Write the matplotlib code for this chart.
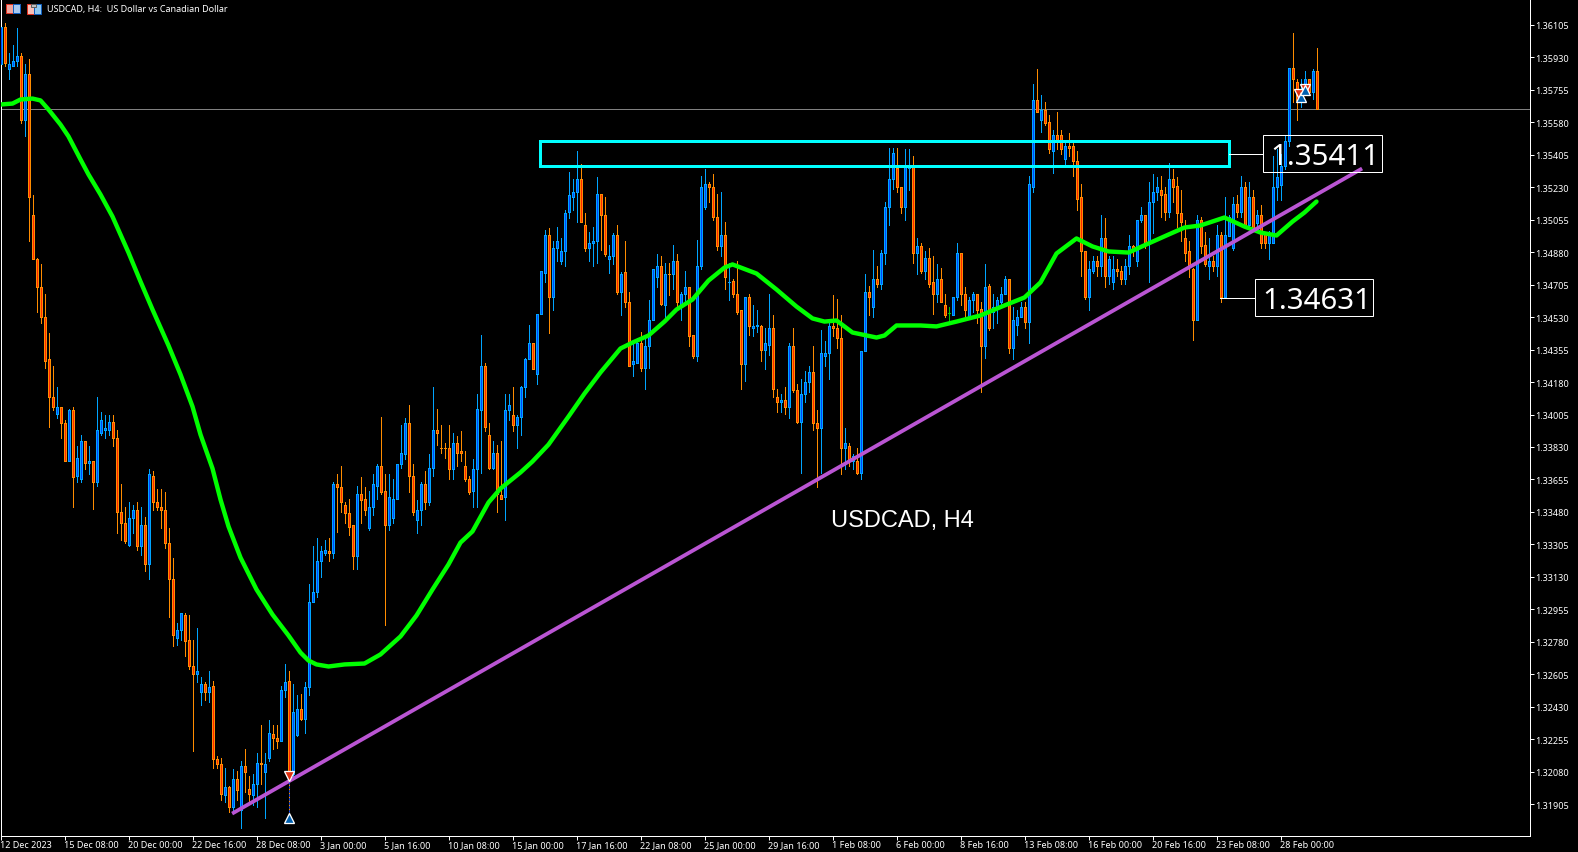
# USDCAD H4 chart, MT5 style dark candles with MA, trendline and range box

import numpy as np
import matplotlib
matplotlib.use('Agg')
import matplotlib.pyplot as plt
from matplotlib.patches import Rectangle
from matplotlib.lines import Line2D
from matplotlib.transforms import Affine2D

# ===== Candle data, prices in points (1e-5), first bar is 12 Dec 2023 =====
OPENS = [
    135892,136096,135870,135886,135913,135935,135590,135838,135083,134846,
    134695,134533,134302,134097,134010,134048,133962,133752,134027,133671,
    133660,133860,133746,133752,133644,133908,133924,133924,133967,133876,
    133482,133418,133304,133450,133493,133299,133412,133202,133676,133536,
    133509,133488,133315,133116,132798,132841,132922,132792,132652,132609,
    132507,132555,132512,132544,132151,132124,131952,131995,131892,132038,
    131871,132108,131989,131952,132011,132129,132076,132156,132281,132264,
    132248,132518,132571,132070,132280,132420,132366,132539,132997,133051,
    133218,133261,133272,133261,133628,133617,133520,133472,133407,133240,
    133574,133552,133391,133509,133622,133730,133595,133412,133450,133552,
    133741,133790,133962,133671,133434,133488,133633,133536,133719,133919,
    133827,133827,133822,133714,133849,133806,133725,133660,133595,133709,
    134027,134264,133897,133719,133795,133569,133558,134027,134005,133946,
    133994,134156,134302,134393,134226,134549,134770,134970,134636,134900,
    134830,134884,135094,135180,135207,135272,135024,134905,134932,134938,
    135191,135083,134841,134862,134970,134663,134771,134614,134280,134285,
    134393,134258,134372,134512,134744,134808,134598,134765,134765,134835,
    134587,134657,134695,134431,134323,134803,135121,135250,135234,135067,
    134911,134970,134717,134727,134657,134566,134275,134636,134474,134480,
    134480,134355,134382,134474,134102,134075,134086,134048,134377,134135,
    133967,134118,134183,134232,133962,133930,134323,134339,134480,134469,
    134415,133822,133833,133752,133757,133692,134350,134668,134587,134738,
    134711,134873,135121,135277,135336,135229,135126,135336,135342,134873,
    134916,134776,134851,134717,134657,134738,134598,134550,134544,134636,
    134873,134657,134533,134620,134652,134576,134377,134700,134555,134582,
    134614,134657,134733,134366,134490,134528,134582,134506,135234,135698,
    135595,135649,135584,135428,135514,135514,135380,135455,135450,135374,
    135175,134889,134636,134781,134830,134803,134959,134749,134722,134787,
    134781,134738,134803,134911,134835,135051,135083,134932,135148,135202,
    135213,135191,135094,135272,135239,135089,134954,134884,134792,134517,
    135056,134921,134803,134830,134803,134975,134636,134965,134900,135142,
    135099,135229,135024,135175,135040,135078,134986,134927,134932,135229,
    135240,135342,135482,135875,135795,135703,135730,135811,135741,135854,
]
HIGHS = [
    136096,136113,135956,135999,136086,135951,135897,135919,135186,134851,
    134819,134652,134442,134264,134156,134048,133978,134037,134043,133838,
    133892,133865,133833,133752,134097,134016,134000,134005,134005,133924,
    133633,133509,133536,133520,133531,133509,133455,133709,133703,133601,
    133601,133585,133391,133234,132884,132933,132933,132922,132792,132857,
    132588,132566,132625,132571,132162,132156,132102,132005,132092,132081,
    132135,132200,132059,132065,132183,132329,132178,132361,132334,132329,
    132544,132658,132620,132555,132491,132496,132566,133094,133294,133342,
    133299,133331,133342,133644,133682,133725,133531,133552,133412,133622,
    133666,133617,133595,133682,133736,133994,133687,133687,133660,133741,
    133951,133989,134054,133736,133542,133639,133698,133790,134151,134037,
    133946,133854,133951,133903,133887,133914,133811,133671,133768,134113,
    134436,134285,133962,133865,133843,133865,134113,134118,134151,134000,
    134161,134312,134485,134393,134549,134776,134997,135008,134943,135018,
    134959,135110,135310,135277,135423,135358,135089,134991,135018,135283,
    135196,135180,134921,134981,135024,134771,134943,134663,134399,134420,
    134452,134426,134620,134792,134868,134857,134824,134824,134921,134868,
    134663,134781,134695,134431,134948,135288,135331,135261,135304,135191,
    135202,135045,134824,134733,134835,134571,134636,134657,134593,134571,
    134490,134469,134657,134544,134145,134118,134156,134393,134469,134167,
    134194,134242,134264,134377,134032,134463,134404,134517,134647,134630,
    134539,133930,133854,133790,133822,134350,134760,134700,134894,134803,
    134894,135148,135444,135439,135444,135234,135434,135434,135401,134954,
    134932,134889,134900,134862,134814,134797,134657,134587,134636,134932,
    134878,134690,134636,134663,134657,134609,134819,134711,134657,134641,
    134695,134754,134733,134587,134571,134614,134614,135293,135789,135865,
    135725,135687,135617,135541,135633,135536,135487,135520,135471,135428,
    135245,134889,134835,134862,134862,135078,135062,134857,134857,134841,
    134803,134841,134970,134921,135056,135121,135083,135256,135304,135283,
    135288,135229,135363,135331,135283,135213,135056,134943,134797,135078,
    135067,134991,134954,134862,135024,134991,135180,135078,135175,135186,
    135288,135256,135256,135213,135110,135137,134986,134992,135396,135434,
    135407,135504,135875,136064,135811,135811,135854,135816,135865,135978,
]
LOWS = [
    135886,135881,135816,135886,135886,135579,135504,134943,134841,134560,
    134501,134258,133940,134027,133989,133881,133752,133752,133504,133639,
    133639,133709,133682,133498,133622,133892,133881,133892,133833,133369,
    133331,133315,133299,133369,133277,133250,133159,133121,133493,133488,
    133391,133288,132916,132760,132765,132792,132701,132631,132194,132561,
    132442,132464,132458,132102,132102,131930,131919,131865,131865,131930,
    131779,131968,131914,131903,131892,132011,131828,132135,132200,132210,
    132248,132485,132065,132059,132270,132361,132286,132491,132992,133019,
    133127,133250,133218,133234,133374,133477,133423,133358,133175,133170,
    133418,133461,133380,133466,133552,133574,132873,133380,133423,133552,
    133719,133763,133590,133461,133364,133407,133498,133515,133676,133843,
    133800,133773,133660,133655,133725,133757,133649,133574,133509,133509,
    133692,133914,133709,133709,133477,133552,133439,133973,133914,133822,
    133897,134097,134302,134248,134167,134549,134717,134447,134571,134830,
    134819,134803,135062,135105,135045,135045,134889,134835,134803,134824,
    134894,134862,134770,134819,134657,134544,134582,134269,134215,134285,
    134237,134145,134258,134512,134690,134598,134533,134647,134679,134587,
    134512,134609,134377,134312,134296,134792,135115,135148,135056,134894,
    134857,134679,134625,134636,134549,134140,134188,134431,134426,134452,
    134296,134253,134328,134097,134016,134016,134010,133989,134124,133962,
    133692,134075,134129,133919,133612,133692,134264,134199,134426,134361,
    133682,133709,133725,133709,133687,133660,134350,134539,134533,134695,
    134679,134819,135024,135223,135207,135089,135056,135213,134824,134760,
    134770,134738,134695,134549,134609,134609,134528,134501,134544,134625,
    134598,134517,134533,134560,134496,134129,134312,134463,134469,134501,
    134582,134652,134339,134302,134431,134528,134474,134388,135202,135633,
    135530,135563,135412,135309,135434,135407,135342,135396,135288,135110,
    134754,134630,134566,134770,134754,134749,134690,134706,134679,134749,
    134711,134711,134765,134862,134803,135045,134905,134722,134981,135164,
    135072,135051,135072,135153,135018,134938,134830,134744,134409,134512,
    134878,134803,134733,134776,134749,134614,134636,134965,134894,135072,
    135072,135024,135013,135002,135002,134900,134900,134846,134932,135164,
    135164,135331,135450,135692,135590,135665,135725,135735,135708,135654,
]
CLOSES = [
    136096,135902,135897,135913,135935,135590,135838,135175,134841,134695,
    134533,134296,134097,134048,134048,133962,133752,134027,133666,133773,
    133865,133746,133752,133644,133919,133978,133935,133967,133876,133477,
    133418,133326,133450,133493,133299,133412,133202,133682,133531,133504,
    133488,133315,133116,132814,132841,132933,132787,132652,132609,132625,
    132555,132507,132539,132151,132119,131957,131995,131892,132038,131979,
    132108,132076,131957,132016,132129,132119,132119,132291,132259,132248,
    132518,132566,132065,132404,132420,132366,132539,132997,133051,133218,
    133267,133277,133256,133628,133617,133531,133472,133401,133240,133574,
    133547,133488,133509,133628,133730,133590,133412,133563,133552,133741,
    133795,133962,133671,133477,133488,133633,133536,133719,133919,133903,
    133822,133822,133714,133849,133800,133795,133660,133590,133714,134037,
    134264,133940,133719,133795,133574,133552,134032,134059,133946,133994,
    134156,134302,134393,134253,134549,134776,134970,134636,134900,134943,
    134884,135089,135186,135207,135272,135045,134905,134932,134938,135191,
    135078,134868,134862,134970,134663,134765,134609,134269,134291,134393,
    134258,134377,134517,134792,134808,134603,134765,134760,134835,134609,
    134657,134695,134426,134323,134808,135234,135250,135234,135067,134911,
    134970,134744,134722,134652,134560,134275,134636,134480,134480,134485,
    134355,134388,134474,134145,134075,134081,134048,134377,134135,133967,
    134118,134183,134232,133962,133935,134339,134339,134480,134469,134415,
    133822,133854,133752,133779,133692,134350,134668,134641,134733,134706,
    134873,135121,135277,135417,135229,135126,135342,135342,134873,134916,
    134776,134851,134711,134657,134738,134614,134544,134550,134636,134873,
    134652,134566,134625,134652,134571,134377,134695,134469,134587,134620,
    134657,134733,134366,134512,134533,134582,134506,135245,135698,135638,
    135649,135579,135434,135514,135482,135434,135455,135444,135369,135169,
    134884,134641,134787,134830,134803,134959,134749,134841,134787,134776,
    134738,134803,134911,134884,135056,135083,134932,135148,135202,135234,
    135186,135094,135272,135234,135089,135045,134878,134808,134517,135056,
    134916,134819,134830,134803,134975,134636,134970,135072,135142,135099,
    135229,135029,135175,135008,135078,134927,134927,134986,135234,135283,
    135342,135482,135875,135816,135703,135757,135811,135741,135854,135654,
]

MA_BARS = [
    -1,2,4,7,9,11,14,16,19,21,24,27,31,34,37,41,44,47,49,52,54,56,59,63,67,71,74,76,78,81,85,90,94,
    99,103,107,111,114,117,121,124,129,132,136,141,145,149,154,157,161,165,168,172,176,180,182,188,
    193,198,202,205,208,212,218,220,223,229,233,238,244,250,255,259,263,268,272,276,281,286,291,295,
    299,305,310,314,318,322,325,328,
]
MA_VALUES = [
    135676,135681,135703,135708,135698,135649,135568,135504,135380,135299,135191,135072,134878,
    134722,134571,134377,134221,134048,133897,133714,133547,133402,133234,133062,132927,132814,
    132722,132679,132658,132647,132658,132663,132712,132809,132922,133062,133197,133315,133375,
    133531,133606,133693,133752,133843,133994,134118,134232,134361,134393,134431,134506,134571,
    134625,134727,134797,134814,134765,134679,134587,134523,134506,134512,134447,134420,134431,
    134485,134485,134480,134506,134539,134593,134636,134717,134873,134954,134911,134884,134878,
    134927,134975,135013,135024,135067,135018,134986,134970,135045,135094,135153,
]

# Trendline end points (bar, price)
TREND_BARS = [56.9, 339.4]
TREND_PRICES = [131854, 135331]

# Range box (bars, prices)
BOX_BARS = [133.75, 306]
BOX_PRICES = [135342, 135482]

LAST_PRICE = 135654

# Trade marks
SELL_BARS = [71, 323.5, 325]
SELL_PRICES = [132059, 135730, 135762]
BUY_BARS = [71, 324, 325]
BUY_PRICES = [131833, 135719, 135752]

Y_TICKS = [
    1.36105,1.35930,1.35755,1.35580,1.35405,1.35230,1.35055,1.34880,1.34705,1.34530,1.34355,1.34180,
    1.34005,1.33830,1.33655,1.33480,1.33305,1.33130,1.32955,1.32780,1.32605,1.32430,1.32255,1.32080,
    1.31905,
]
X_TICK_BARS = list(range(-1, 320, 16))
X_TICK_LABELS = [
    '12 Dec 2023','15 Dec 08:00','20 Dec 00:00','22 Dec 16:00','28 Dec 08:00','3 Jan 00:00',
    '5 Jan 16:00','10 Jan 08:00','15 Jan 00:00','17 Jan 16:00','22 Jan 08:00','25 Jan 00:00',
    '29 Jan 16:00','1 Feb 08:00','6 Feb 00:00','8 Feb 16:00','13 Feb 08:00','16 Feb 00:00',
    '20 Feb 16:00','23 Feb 08:00','28 Feb 00:00',
]

# ===== Visual style =====
COL = {
    'up_wick':  '#00A5FF',
    'up_body':  '#0046FF',
    'dn_wick':  '#FF8C00',
    'dn_body':  '#FF2800',
    'doji':     '#00C800',
    'ma':       '#00FF00',
    'trend':    '#BA55D3',
    'box':      '#00FFFF',
    'last':     '#808080',
}
W, H = 1578, 853
DPI = 100
PX = 72.0 / DPI   # one pixel in points

plt.rcParams['font.family'] = ['Noto Sans', 'DejaVu Sans']

fig = plt.figure(figsize=(W / DPI, H / DPI), dpi=DPI, facecolor='black')
ax = fig.add_axes([0.5 / W, (H - 836.5) / H, 1529 / W, 836.5 / H], facecolor='black')

o = np.array(OPENS) / 1e5
h = np.array(HIGHS) / 1e5
l = np.array(LOWS) / 1e5
c = np.array(CLOSES) / 1e5
bars = np.arange(len(o)) - 1

up = c > o
dn = c < o
doji = c == o

# ---- Candles ----
for mask, wick, body in ((up, COL['up_wick'], COL['up_body']), (dn, COL['dn_wick'], COL['dn_body'])):
    ax.vlines(bars[mask], l[mask], h[mask], color=wick, lw=PX, antialiased=False, zorder=2)
    ax.bar(bars[mask], np.abs(c[mask] - o[mask]), bottom=np.minimum(o[mask], c[mask]), width=0.5,
           facecolor=body, edgecolor=wick, linewidth=PX, antialiased=False, zorder=3)
ax.vlines(bars[doji], l[doji], h[doji], color=COL['doji'], lw=PX, antialiased=False, zorder=2)
ax.hlines(c[doji], bars[doji] - 0.25, bars[doji] + 0.25, color=COL['doji'], lw=PX, antialiased=False, zorder=3)

# ---- Last price line ----
ax.axhline(LAST_PRICE / 1e5, color=COL['last'], lw=PX, zorder=1)

# ---- Moving average and trendline ----
ax.plot(MA_BARS, np.array(MA_VALUES) / 1e5, color=COL['ma'], lw=4.4 * PX, zorder=5, solid_capstyle='round')
ax.plot(TREND_BARS, np.array(TREND_PRICES) / 1e5, color=COL['trend'], lw=3.8 * PX, zorder=6, solid_capstyle='butt')

# ---- Range box ----
ax.add_patch(Rectangle(
    (BOX_BARS[0], BOX_PRICES[0] / 1e5), BOX_BARS[1] - BOX_BARS[0], (BOX_PRICES[1] - BOX_PRICES[0]) / 1e5,
    facecolor='none', edgecolor=COL['box'], lw=3 * PX, zorder=7
))

# ---- Trade marks with dashed link ----
ax.plot([BUY_BARS[0], SELL_BARS[0]], [BUY_PRICES[0] / 1e5, SELL_PRICES[0] / 1e5],
        color=COL['dn_wick'], lw=PX, ls=(0, (2, 2)), zorder=8)
ax.plot([BUY_BARS[0], SELL_BARS[0]], [BUY_PRICES[0] / 1e5, SELL_PRICES[0] / 1e5],
        color=COL['up_body'], lw=PX, ls=(2, (2, 2)), zorder=8)
ax.plot(SELL_BARS, np.array(SELL_PRICES) / 1e5, ls='none', marker='v', ms=10 * PX,
        mfc='#E03010', mec='white', mew=1.3 * PX, zorder=9)
ax.plot(BUY_BARS, np.array(BUY_PRICES) / 1e5, ls='none', marker='^', ms=10 * PX,
        mfc='#0060B0', mec='white', mew=1.3 * PX, zorder=9)

# ---- Axes ----
ax.set_xlim(-1, 381.25)
ax.set_ylim(1.31736, 1.362447)
ax.set_yticks(Y_TICKS)
ax.set_yticklabels([f'{v:.5f}' for v in Y_TICKS])
ax.set_xticks(X_TICK_BARS)
ax.set_xticklabels(X_TICK_LABELS, ha='left')
ax.tick_params(axis='y', left=False, right=True, labelleft=False, labelright=True,
               length=4 * PX, width=PX, color='white', labelcolor='white', labelsize=6.5, pad=1)
ax.tick_params(axis='x', length=4 * PX, width=PX, color='white', labelcolor='white', labelsize=6.5, pad=0.5)
for name in ('left', 'right', 'bottom'):
    ax.spines[name].set_color('white')
    ax.spines[name].set_linewidth(PX)
ax.spines['top'].set_visible(False)

# ---- Overlays placed in screen pixels (y down) ----
px = Affine2D().scale(1, -1).translate(0, H)


def px_rect(x, y, w, hh, fc='none', ec='white', lw=PX, z=10):
    fig.add_artist(Rectangle((x, y), w, hh, transform=px, facecolor=fc, edgecolor=ec, lw=lw, zorder=z))


def px_line(x0, x1, y):
    fig.add_artist(Line2D([x0, x1], [y, y], transform=px, color='white', lw=PX, zorder=10))


# Price labels
px_rect(1262.5, 135.5, 119, 37)
px_line(1229, 1262, 154.5)
fig.text(1379, H - 158, '1.35411', transform=None, color='white', fontsize=21.2, ha='right', va='center', zorder=11)
px_rect(1254.5, 279.5, 118, 37)
px_line(1220, 1254, 298.5)
fig.text(1371, H - 302, '1.34631', transform=None, color='white', fontsize=21.2, ha='right', va='center', zorder=11)

fig.text(831, H - 521, 'USDCAD, H4', transform=None, color='white', fontsize=17,
         family=['Liberation Sans', 'DejaVu Sans'], ha='left', va='center', zorder=11)

# Header with the two little icons
px_rect(5.5, 4.5, 14, 9, fc='#F0A8A0', ec='#E03020')
px_rect(12.5, 4.5, 7, 9, fc='#A8C8F0', ec='#1060C0')
px_rect(26.5, 4.5, 7, 10, fc='#F8C0B8', ec='#E03020')
px_rect(33.5, 4.5, 7, 10, fc='#90C8F0', ec='#1060C0')
px_rect(30.5, 4.5, 5, 3, fc='#C0C0C0', ec='#606060')
fig.text(47, H - 9.5, 'USDCAD, H4:  US Dollar vs Canadian Dollar', transform=None, color='white',
         fontsize=6.5, ha='left', va='center', zorder=11)

plt.savefig('out.png', dpi=DPI, facecolor='black')
print('Saved: out.png')
